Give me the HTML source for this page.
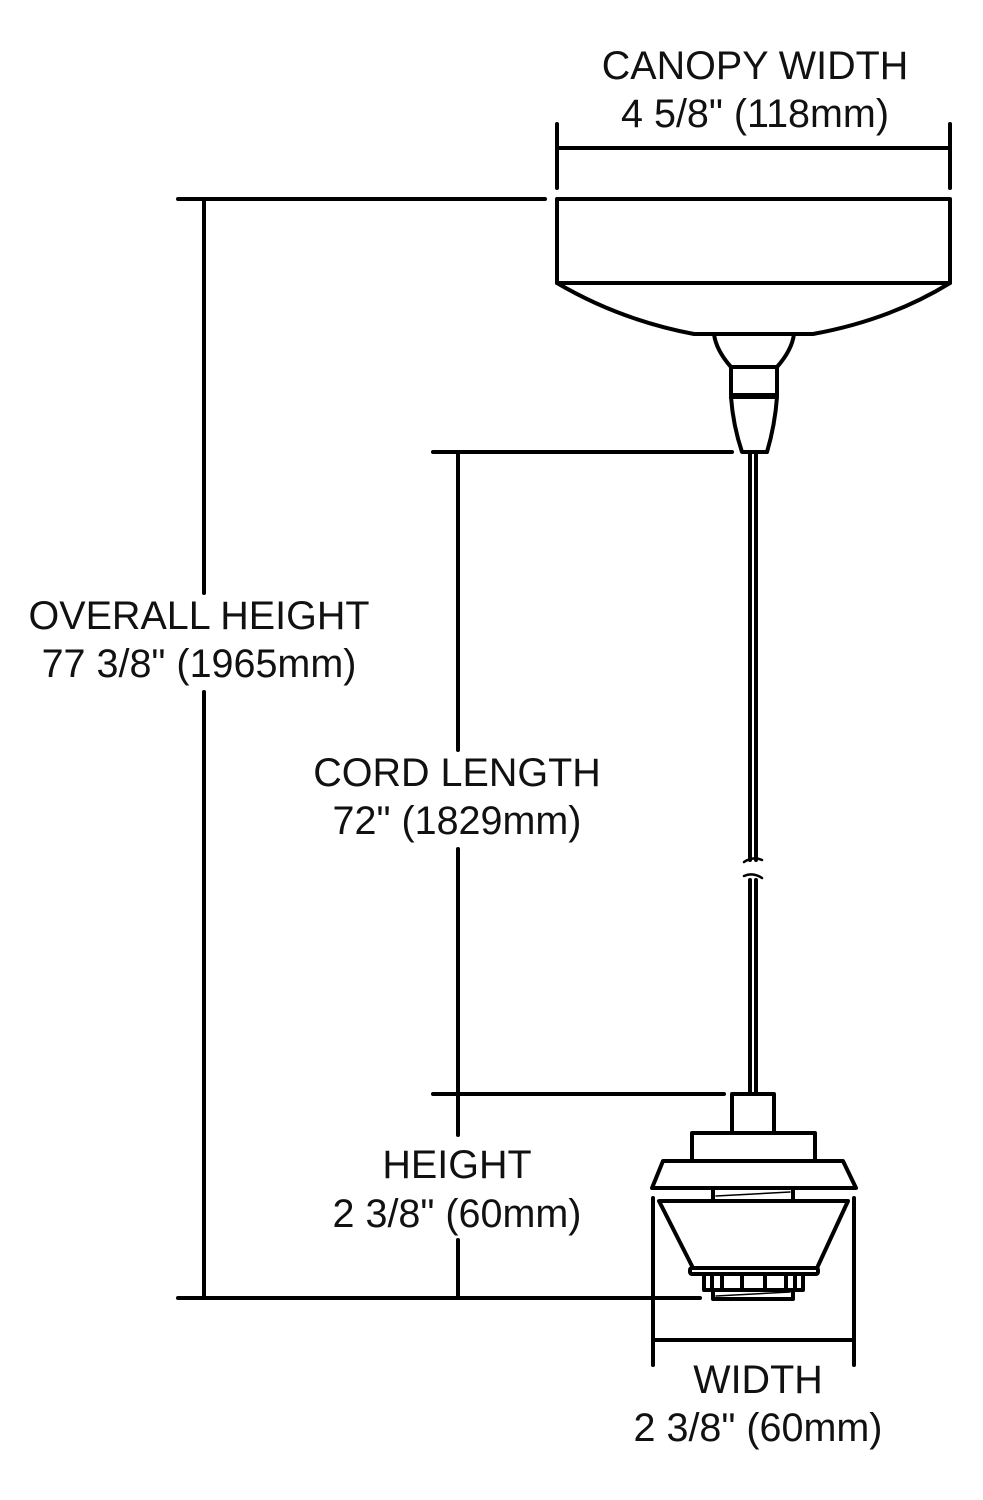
<!DOCTYPE html>
<html><head><style>
html,body{margin:0;padding:0;background:#fff;}
svg{display:block;}
text{font-family:"Liberation Sans",Arial,sans-serif;font-size:39.5px;fill:#111;text-anchor:middle;}
</style></head><body>
<svg width="983" height="1500" viewBox="0 0 983 1500" xmlns="http://www.w3.org/2000/svg">
<g stroke="#000" stroke-width="4" fill="none" stroke-linecap="round" stroke-linejoin="round">
<line x1="557" y1="124" x2="557" y2="188"/>
<line x1="950" y1="124" x2="950" y2="188"/>
<line x1="557" y1="148" x2="950" y2="148"/>
<line x1="178" y1="199" x2="545" y2="199"/>
<line x1="204" y1="199" x2="204" y2="593"/>
<line x1="204" y1="692" x2="204" y2="1298"/>
<line x1="178" y1="1298" x2="700" y2="1298"/>
<line x1="433" y1="452" x2="732" y2="452"/>
<line x1="458" y1="452" x2="458" y2="750"/>
<line x1="458" y1="849" x2="458" y2="1135"/>
<line x1="458" y1="1240" x2="458" y2="1298"/>
<line x1="433" y1="1094" x2="724" y2="1094"/>
<rect x="557" y="199" width="393" height="84"/>
<path d="M557 283 Q620 320 694 334 L813 334 Q890 320 950 283"/>
<path d="M714 334 Q716 350 731 367 L777 367 Q792 350 794 334"/>
<rect x="731" y="367" width="46" height="28"/>
<line x1="731" y1="397" x2="777" y2="397"/>
<path d="M731 397 Q733 425 742 452 L767 452 Q775 425 777 397"/>
<line x1="750" y1="452" x2="750" y2="860"/>
<line x1="756" y1="452" x2="756" y2="860"/>
<line x1="750" y1="880" x2="750" y2="1094"/>
<line x1="756" y1="880" x2="756" y2="1094"/>
<path d="M744 862 Q753 856 762 860" stroke-width="2.5"/>
<path d="M744 876 Q753 872 762 878" stroke-width="2.5"/>
<rect x="732" y="1094" width="42" height="39"/>
<rect x="692" y="1133" width="123" height="28"/>
<path d="M663 1161 L843 1161 L856 1188 L652 1188 Z"/>
<rect x="713" y="1188" width="80" height="13"/>
<path d="M716 1196 L790 1192" stroke-width="1.5"/>
<path d="M659 1201 L848 1201 L817 1268 L693 1268 Z"/>
<rect x="690" y="1268" width="128" height="6" rx="2"/>
<rect x="704" y="1274" width="99" height="16"/>
<line x1="712" y1="1274" x2="712" y2="1290"/>
<line x1="722" y1="1274" x2="722" y2="1290"/>
<line x1="742" y1="1274" x2="742" y2="1290"/>
<line x1="765" y1="1274" x2="765" y2="1290"/>
<line x1="786" y1="1274" x2="786" y2="1290"/>
<line x1="795" y1="1274" x2="795" y2="1290"/>
<rect x="713" y="1290" width="80" height="9"/>
<path d="M716 1296 L790 1292" stroke-width="1.5"/>
<line x1="653" y1="1198" x2="653" y2="1365"/>
<line x1="854" y1="1198" x2="854" y2="1365"/>
<line x1="653" y1="1340" x2="854" y2="1340"/>
</g>
<text x="755" y="79">CANOPY WIDTH</text>
<text x="755" y="127">4 5/8" (118mm)</text>
<text x="199" y="629">OVERALL HEIGHT</text>
<text x="199" y="677">77 3/8" (1965mm)</text>
<text x="457" y="786">CORD LENGTH</text>
<text x="457" y="834">72" (1829mm)</text>
<text x="457" y="1178">HEIGHT</text>
<text x="457" y="1227">2 3/8" (60mm)</text>
<text x="758" y="1393">WIDTH</text>
<text x="758" y="1441">2 3/8" (60mm)</text>
</svg>
</body></html>
